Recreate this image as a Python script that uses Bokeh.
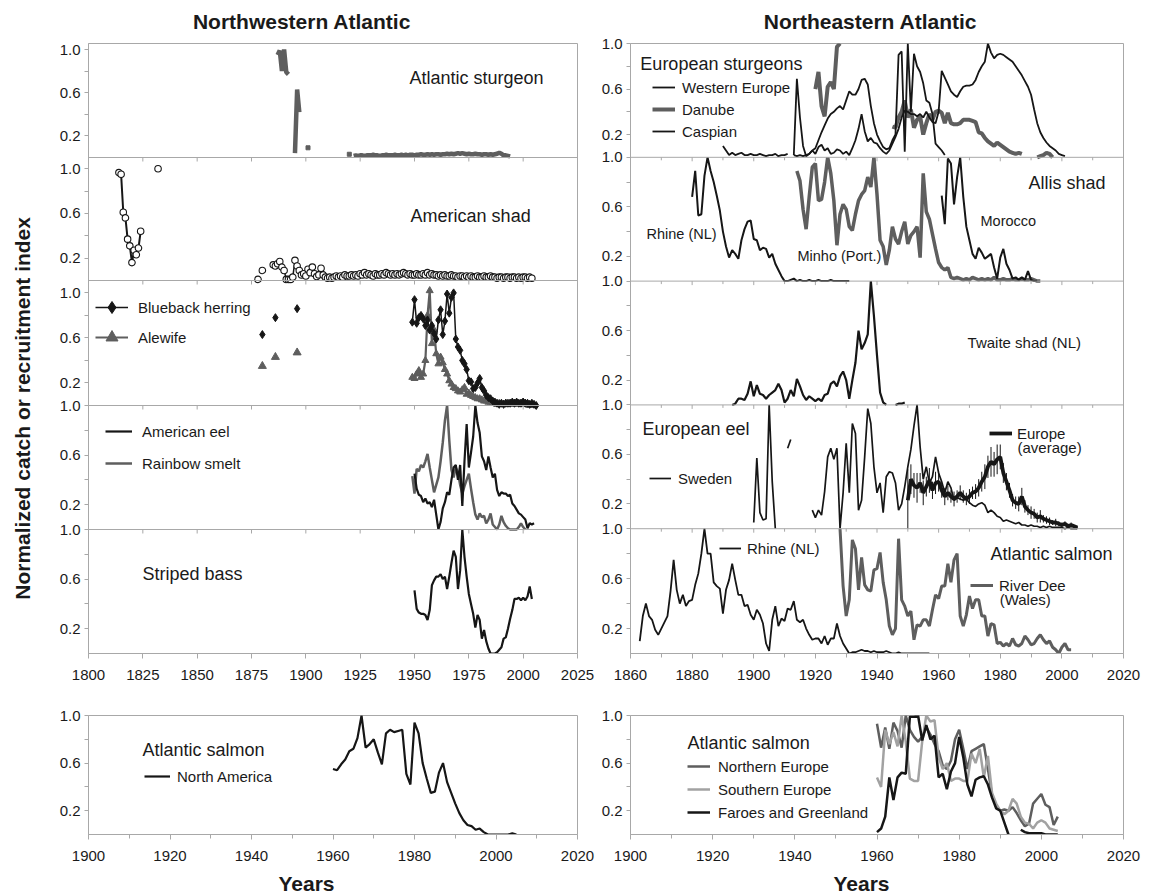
import numpy as np
from math import pi
from bokeh.plotting import figure
from bokeh.models import (Range1d, LinearAxis, FixedTicker, NumeralTickFormatter,
                          Label, Legend, LegendItem, Span)
from bokeh.layouts import row, column
from bokeh.embed import file_html
from bokeh.resources import INLINE
from bokeh.core.properties import value


def yrs(a, b):
    return list(range(a, b + 1))

# ------------------------------------------------------------------ data
# Northwestern Atlantic -- Atlantic sturgeon
stur_a_yr = yrs(1887, 1892)
stur_a = [0.95, 0.99, 0.80, 1.0, 0.79, 0.77]
stur_b_yr = yrs(1895, 1897)
stur_b = [0.04, 0.63, 0.42]
stur_iso_yr = [1901, 1920]
stur_iso = [0.09, 0.03]
stur_c_yr = yrs(1922, 1994)
stur_c = [0.015, 0.02, 0.015, 0.02, 0.02, 0.015, 0.02, 0.02, 0.02, 0.025,
          0.02, 0.02, 0.015, 0.02, 0.02, 0.025, 0.02, 0.02, 0.02, 0.025,
          0.02, 0.02, 0.025, 0.02, 0.025, 0.02, 0.025, 0.025, 0.02, 0.025,
          0.025, 0.03, 0.025, 0.025, 0.03, 0.025, 0.03, 0.025, 0.03, 0.03,
          0.025, 0.03, 0.03, 0.035, 0.03, 0.035, 0.03, 0.035, 0.04, 0.035,
          0.04, 0.035, 0.03, 0.035, 0.03, 0.03, 0.035, 0.03, 0.03, 0.025,
          0.03, 0.03, 0.025, 0.03, 0.025, 0.03, 0.035, 0.045, 0.035, 0.02,
          0.02, 0.015, 0.01]

# American shad
shad_a_yr = yrs(1814, 1824)
shad_a = [0.965, 0.95, 0.61, 0.56, 0.37, 0.31, 0.16, 0.27, 0.23, 0.29, 0.44]
shad_iso_yr = [1832, 1878, 1880]
shad_iso = [1.0, 0.01, 0.09]
shad_b_yr = yrs(1885, 2004)
shad_b = [0.14, 0.13, 0.15, 0.17, 0.12, 0.09, 0.01, 0.01, 0.01, 0.03,
          0.18, 0.13, 0.09, 0.05, 0.06, 0.04, 0.10, 0.07, 0.12, 0.06,
          0.035, 0.05, 0.11, 0.05, 0.03, 0.02, 0.03, 0.02, 0.03, 0.04,
          0.03, 0.04, 0.03, 0.05, 0.04, 0.04, 0.05, 0.04, 0.05, 0.04,
          0.06, 0.05, 0.07, 0.05, 0.06, 0.05, 0.04, 0.06, 0.05, 0.05,
          0.06, 0.05, 0.07, 0.06, 0.05, 0.06, 0.05, 0.06, 0.05, 0.06,
          0.07, 0.06, 0.05, 0.06, 0.05, 0.05, 0.06, 0.05, 0.05, 0.06,
          0.05, 0.07, 0.05, 0.06, 0.05, 0.05, 0.04, 0.05, 0.04, 0.05,
          0.04, 0.04, 0.05, 0.04, 0.04, 0.03, 0.04, 0.04, 0.03, 0.04,
          0.03, 0.04, 0.03, 0.03, 0.04, 0.03, 0.03, 0.04, 0.03, 0.03,
          0.04, 0.03, 0.03, 0.02, 0.03, 0.03, 0.02, 0.03, 0.03, 0.02,
          0.03, 0.03, 0.02, 0.03, 0.02, 0.03, 0.03, 0.02, 0.03, 0.02]

# Blueback herring / Alewife
herring_iso_yr = [1880, 1886, 1896]
herring_iso = [0.63, 0.78, 0.86]
alewife_iso_yr = [1880, 1886, 1896]
alewife_iso = [0.35, 0.43, 0.47]
herring_yr = yrs(1949, 2006)
herring = [0.74, 0.94, 0.73, 0.78, 0.80, 0.77, 0.71, 0.76, 0.67, 0.71,
           0.64, 0.59, 0.76, 0.85, 0.63, 0.75, 0.99, 0.82, 0.96, 1.0,
           0.59, 0.52, 0.49, 0.40, 0.37, 0.32, 0.22, 0.21, 0.15, 0.16,
           0.20, 0.24, 0.16, 0.13, 0.09, 0.07, 0.06, 0.04, 0.03, 0.02,
           0.01, 0.02, 0.01, 0.02, 0.02, 0.02, 0.03, 0.02, 0.03, 0.02,
           0.02, 0.03, 0.02, 0.02, 0.01, 0.02, 0.01, 0.0]
alewife_yr = yrs(1949, 2003)
alewife = [0.25, 0.24, 0.28, 0.31, 0.25, 0.28, 0.40, 0.80, 1.02, 0.55,
           0.67, 0.46, 0.37, 0.43, 0.38, 0.32, 0.28, 0.22, 0.19, 0.16,
           0.15, 0.13, 0.12, 0.14, 0.16, 0.10, 0.11, 0.09, 0.08, 0.07,
           0.06, 0.06, 0.05, 0.04, 0.04, 0.03, 0.03, 0.02, 0.02, 0.01,
           0.02, 0.01, 0.01, 0.02, 0.01, 0.02, 0.01, 0.02, 0.02, 0.01,
           0.02, 0.03, 0.02, 0.01, 0.0]

# American eel / Rainbow smelt
am_eel_yr = yrs(1950, 2005)
am_eel = [0.45, 0.33, 0.28, 0.27, 0.22, 0.25, 0.21, 0.22, 0.18, 0.24,
          0.12, 0.0, 0.06, 0.17, 0.22, 0.30, 0.28, 0.40, 0.50, 0.52,
          0.40, 0.52, 0.19, 0.55, 0.85, 0.50, 0.62, 0.75, 1.0, 0.86,
          0.78, 0.59, 0.55, 0.48, 0.59, 0.50, 0.42, 0.45, 0.32, 0.27,
          0.30, 0.29, 0.29, 0.27, 0.28, 0.21, 0.19, 0.16, 0.13, 0.12,
          0.10, 0.08, 0.01, 0.05, 0.04, 0.05]
smelt_yr = yrs(1949, 2001)
smelt = [0.43, 0.29, 0.49, 0.47, 0.52, 0.50, 0.55, 0.61, 0.50, 0.40,
         0.30, 0.36, 0.42, 0.55, 0.70, 0.88, 1.0, 0.72, 0.48, 0.42,
         0.50, 0.46, 0.36, 0.29, 0.35, 0.40, 0.45, 0.33, 0.22, 0.12,
         0.08, 0.13, 0.10, 0.11, 0.05, 0.08, 0.13, 0.04, 0.02, 0.0,
         0.04, 0.11, 0.06, 0.03, 0.01, 0.0, 0.0, 0.0, 0.0, 0.02,
         0.05, 0.02, 0.0]

# Striped bass
bass_yr = yrs(1950, 2004)
bass = [0.51, 0.36, 0.33, 0.32, 0.32, 0.31, 0.27, 0.35, 0.55, 0.59,
        0.62, 0.62, 0.64, 0.60, 0.62, 0.52, 0.62, 0.73, 0.83, 0.78,
        0.52, 0.67, 1.0, 0.78, 0.62, 0.48, 0.40, 0.32, 0.21, 0.31,
        0.27, 0.12, 0.19, 0.10, 0.04, 0.0, 0.0, 0.0, 0.01, 0.03,
        0.05, 0.12, 0.13, 0.20, 0.28, 0.35, 0.44, 0.44, 0.45, 0.43,
        0.45, 0.43, 0.46, 0.54, 0.44]

# Atlantic salmon, North America
na_salmon_yr = yrs(1960, 2005)
na_salmon = [0.55, 0.54, 0.59, 0.63, 0.70, 0.72, 0.81, 1.0, 0.73, 0.76,
             0.80, 0.69, 0.59, 0.85, 0.88, 0.86, 0.87, 0.88, 0.51, 0.42,
             0.94, 0.85, 0.60, 0.47, 0.35, 0.36, 0.52, 0.60, 0.44, 0.35,
             0.26, 0.18, 0.12, 0.08, 0.07, 0.04, 0.05, 0.02, 0.0, 0.0,
             0.0, 0.0, 0.0, 0.0, 0.01, 0.0]

# Northeastern Atlantic -- European sturgeons
weu_a_yr = yrs(1890, 1911)
weu_a = [0.10, 0.06, 0.02, 0.04, 0.02, 0.03, 0.04, 0.02, 0.02, 0.03, 0.02,
         0.02, 0.03, 0.02, 0.01, 0.02, 0.02, 0.03, 0.01, 0.02, 0.02, 0.03]
weu_b_yr = yrs(1913, 1962)
weu_b = [0.02, 0.69, 0.35, 0.10, 0.01, 0.03, 0.06, 0.08, 0.15, 0.22,
         0.28, 0.34, 0.38, 0.40, 0.43, 0.45, 0.42, 0.50, 0.58, 0.55,
         0.55, 0.60, 0.68, 0.69, 0.64, 0.45, 0.30, 0.20, 0.14, 0.09,
         0.07, 0.08, 0.15, 0.20, 0.90, 0.93, 0.05, 1.0, 0.40, 0.91,
         0.80, 0.75, 0.65, 0.50, 0.48, 0.38, 0.12, 0.09, 0.06, 0.02]
danube_a_yr = yrs(1920, 1928)
danube_a = [0.60, 0.75, 0.45, 0.36, 0.62, 0.66, 0.60, 0.97, 1.0]
danube_b_yr = yrs(1945, 1987)
danube_b = [0.27, 0.26, 0.35, 0.40, 0.50, 0.35, 0.42, 0.26, 0.33, 0.36,
            0.20, 0.30, 0.38, 0.33, 0.40, 0.41, 0.39, 0.30, 0.39, 0.30,
            0.29, 0.29, 0.30, 0.33, 0.33, 0.33, 0.32, 0.31, 0.22, 0.21,
            0.17, 0.14, 0.12, 0.10, 0.13, 0.11, 0.09, 0.07, 0.05, 0.04,
            0.03, 0.04, 0.03]
danube_c_yr = yrs(1992, 1997)
danube_c = [0.0, 0.01, 0.02, 0.04, 0.03, 0.0]
caspian_yr = yrs(1913, 2001)
caspian = [0.02, 0.01, 0.02, 0.01, 0.02, 0.03, 0.06, 0.03, 0.09, 0.11,
           0.06, 0.08, 0.03, 0.04, 0.07, 0.06, 0.03, 0.05, 0.02, 0.08,
           0.15, 0.25, 0.38, 0.23, 0.14, 0.17, 0.13, 0.12, 0.08, 0.05,
           0.03, 0.06, 0.12, 0.18, 0.25, 0.35, 0.41, 0.40, 0.38, 0.38,
           0.36, 0.38, 0.35, 0.40, 0.35, 0.31, 0.30, 0.40, 0.76, 0.70,
           0.64, 0.58, 0.55, 0.53, 0.58, 0.62, 0.63, 0.63, 0.64, 0.68,
           0.75, 0.80, 0.84, 1.0, 0.92, 0.87, 0.90, 0.91, 0.90, 0.88,
           0.86, 0.84, 0.80, 0.76, 0.72, 0.67, 0.62, 0.55, 0.42, 0.30,
           0.22, 0.17, 0.13, 0.10, 0.08, 0.06, 0.03, 0.02, 0.01]

# Allis shad
rhine_shad_yr = yrs(1880, 1931)
rhine_shad = [0.68, 0.89, 0.53, 0.54, 0.85, 1.0, 0.89, 0.80, 0.69, 0.57,
              0.40, 0.28, 0.19, 0.25, 0.22, 0.18, 0.33, 0.42, 0.48, 0.49,
              0.34, 0.33, 0.25, 0.27, 0.26, 0.19, 0.22, 0.14, 0.09, 0.04,
              0.0, 0.0, 0.01, 0.02, 0.0, 0.01, 0.0, 0.0, 0.01, 0.0,
              0.0, 0.01, 0.0, 0.0, 0.0, 0.01, 0.0, 0.0, 0.0, 0.0,
              0.0, 0.0]
minho_yr = yrs(1914, 1993)
minho = [0.89, 0.81, 0.58, 0.42, 0.68, 0.92, 0.95, 0.65, 0.66, 0.80,
         1.0, 0.87, 0.65, 0.29, 0.54, 0.62, 0.58, 0.44, 0.41, 0.54,
         0.65, 0.70, 0.73, 0.84, 0.76, 1.0, 0.70, 0.33, 0.28, 0.13,
         0.25, 0.44, 0.34, 0.30, 0.40, 0.48, 0.30, 0.37, 0.40, 0.44,
         0.19, 0.87, 0.56, 0.50, 0.38, 0.26, 0.15, 0.11, 0.09, 0.11,
         0.03, 0.02, 0.03, 0.02, 0.01, 0.02, 0.01, 0.03, 0.02, 0.01,
         0.02, 0.01, 0.02, 0.01, 0.03, 0.01, 0.01, 0.02, 0.01, 0.01,
         0.02, 0.01, 0.01, 0.02, 0.01, 0.01, 0.02, 0.01, 0.0, 0.0]
morocco_yr = yrs(1961, 1992)
morocco = [0.69, 0.46, 0.99, 0.95, 0.62, 0.84, 1.0, 0.68, 0.44, 0.33,
           0.22, 0.18, 0.27, 0.23, 0.18, 0.20, 0.22, 0.11, 0.02, 0.19,
           0.26, 0.14, 0.09, 0.02, 0.03, 0.01, 0.03, 0.01, 0.08, 0.01,
           0.0, 0.0]

# Twaite shad (NL)
twaite_a_yr = yrs(1893, 1943)
twaite_a = [0.0, 0.01, 0.05, 0.05, 0.04, 0.09, 0.19, 0.07, 0.16, 0.09,
            0.08, 0.05, 0.08, 0.10, 0.12, 0.17, 0.12, 0.02, 0.05, 0.12,
            0.07, 0.21, 0.15, 0.08, 0.04, 0.07, 0.05, 0.03, 0.05, 0.03,
            0.08, 0.09, 0.17, 0.19, 0.15, 0.23, 0.27, 0.20, 0.05, 0.20,
            0.34, 0.60, 0.45, 0.50, 0.57, 1.0, 0.72, 0.40, 0.10, 0.02,
            0.0]
twaite_b_yr = yrs(1946, 1949)
twaite_b = [0.0, 0.01, 0.01, 0.02]

# European eel
sweden_a_yr = yrs(1900, 1907)
sweden_a = [0.05, 0.57, 0.13, 0.07, 0.08, 1.0, 0.38, 0.0]
sweden_b_yr = [1911, 1912]
sweden_b = [0.65, 0.72]
sweden_c_yr = yrs(1919, 2005)
sweden_c = [0.15, 0.09, 0.15, 0.11, 0.30, 0.58, 0.65, 0.56, 0.65, 0.0,
            0.29, 0.69, 0.29, 0.85, 0.77, 0.15, 0.23, 0.58, 0.97, 0.85,
            0.50, 0.29, 0.37, 0.13, 0.42, 0.46, 0.45, 0.37, 0.15, 0.20,
            0.34, 0.50, 0.64, 0.83, 1.0, 0.66, 0.40, 0.50, 0.37, 0.42,
            0.58, 0.45, 0.38, 0.29, 0.38, 0.33, 0.23, 0.25, 0.24, 0.23,
            0.24, 0.21, 0.19, 0.18, 0.20, 0.21, 0.19, 0.13, 0.15, 0.13,
            0.10, 0.09, 0.06, 0.07, 0.06, 0.05, 0.04, 0.05, 0.03, 0.03,
            0.02, 0.03, 0.02, 0.02, 0.01, 0.02, 0.01, 0.02, 0.01, 0.01,
            0.01, 0.01, 0.0, 0.01, 0.0, 0.0, 0.0]
eu_avg_yr = yrs(1950, 2005)
eu_avg = [0.23, 0.40, 0.35, 0.33, 0.37, 0.29, 0.34, 0.39, 0.31, 0.37,
          0.38, 0.31, 0.26, 0.29, 0.26, 0.24, 0.26, 0.29, 0.26, 0.24,
          0.26, 0.29, 0.30, 0.33, 0.38, 0.42, 0.50, 0.54, 0.52, 0.56,
          0.58, 0.45, 0.38, 0.31, 0.23, 0.21, 0.20, 0.26, 0.18, 0.15,
          0.13, 0.12, 0.09, 0.10, 0.08, 0.07, 0.06, 0.05, 0.05, 0.04,
          0.03, 0.04, 0.02, 0.03, 0.02, 0.01]
eu_avg_err = [0.25, 0.12, 0.10, 0.12, 0.08, 0.10, 0.08, 0.10, 0.07, 0.09,
              0.08, 0.06, 0.07, 0.06, 0.05, 0.06, 0.05, 0.06, 0.05, 0.05,
              0.06, 0.05, 0.06, 0.07, 0.08, 0.10, 0.09, 0.12, 0.10, 0.12,
              0.10, 0.08, 0.07, 0.06, 0.05, 0.05, 0.06, 0.07, 0.05, 0.04,
              0.05, 0.04, 0.04, 0.05, 0.03, 0.03, 0.03, 0.02, 0.03, 0.02,
              0.02, 0.02, 0.02, 0.02, 0.01, 0.01]

# Atlantic salmon, Rhine / River Dee
rhine_sal_yr = yrs(1863, 1957)
rhine_sal = [0.10, 0.30, 0.40, 0.30, 0.27, 0.19, 0.15, 0.20, 0.25, 0.30,
             0.50, 0.75, 0.51, 0.40, 0.47, 0.38, 0.42, 0.43, 0.55, 0.64,
             0.80, 1.0, 0.80, 0.80, 0.57, 0.54, 0.52, 0.32, 0.51, 0.59,
             0.72, 0.59, 0.47, 0.47, 0.38, 0.39, 0.31, 0.27, 0.35, 0.31,
             0.24, 0.08, 0.02, 0.27, 0.38, 0.22, 0.28, 0.26, 0.36, 0.35,
             0.42, 0.27, 0.25, 0.27, 0.20, 0.15, 0.11, 0.12, 0.12, 0.08,
             0.14, 0.07, 0.12, 0.12, 0.24, 0.14, 0.08, 0.04, 0.0, 0.01,
             0.01, 0.02, 0.03, 0.02, 0.02, 0.01, 0.02, 0.01, 0.01, 0.01,
             0.02, 0.01, 0.0, 0.0, 0.01, 0.0, 0.0, 0.0, 0.0, 0.0,
             0.0, 0.0, 0.0, 0.0, 0.0]
dee_yr = yrs(1928, 2003)
dee = [1.0, 0.54, 0.30, 0.43, 0.91, 0.84, 0.51, 0.77, 0.55, 0.51,
       0.50, 0.67, 0.68, 0.81, 0.57, 0.43, 0.22, 0.15, 0.20, 0.92,
       0.43, 0.38, 0.30, 0.34, 0.11, 0.23, 0.22, 0.27, 0.27, 0.22,
       0.35, 0.47, 0.44, 0.54, 0.54, 0.72, 0.57, 0.75, 0.80, 0.30,
       0.22, 0.31, 0.46, 0.36, 0.43, 0.43, 0.30, 0.30, 0.14, 0.24,
       0.23, 0.08, 0.09, 0.06, 0.08, 0.06, 0.12, 0.07, 0.06, 0.08,
       0.14, 0.11, 0.07, 0.08, 0.12, 0.15, 0.11, 0.08, 0.10, 0.05,
       0.03, 0.0, 0.05, 0.08, 0.03, 0.03]

# Atlantic salmon, Europe
eu_sal_yr = yrs(1960, 2004)
north_eu = [0.93, 0.73, 0.90, 0.72, 0.94, 0.87, 0.73, 1.0, 0.88, 0.82,
            0.78, 0.82, 0.90, 0.84, 0.76, 0.70, 0.58, 0.55, 0.62, 0.80,
            0.88, 0.72, 0.55, 0.70, 0.72, 0.74, 0.76, 0.55, 0.33, 0.24,
            0.20, 0.21, 0.20, 0.23, 0.18, 0.12, 0.07, 0.09, 0.26, 0.30,
            0.34, 0.25, 0.23, 0.08, 0.15]
south_eu = [0.48, 0.40, 0.88, 0.76, 0.86, 0.74, 1.0, 0.78, 0.47, 0.45,
            0.45, 0.78, 1.0, 0.95, 0.96, 0.65, 0.55, 0.60, 0.45, 0.47,
            0.47, 0.45, 0.45, 0.68, 0.60, 0.72, 0.48, 0.66, 0.35, 0.26,
            0.20, 0.17, 0.20, 0.30, 0.26, 0.15, 0.10, 0.09, 0.05, 0.10,
            0.12, 0.10, 0.05, 0.04, 0.03]
faroes_a_yr = yrs(1960, 1992)
faroes_a = [0.02, 0.05, 0.15, 0.48, 0.29, 0.48, 0.52, 0.51, 0.99, 0.99,
            1.0, 0.79, 0.92, 0.80, 0.83, 0.48, 0.51, 0.38, 0.53, 0.60,
            0.82, 0.65, 0.42, 0.32, 0.46, 0.48, 0.49, 0.42, 0.31, 0.22,
            0.20, 0.10, 0.0]
faroes_b_yr = yrs(1995, 2004)
faroes_b = [0.04, 0.02, 0.01, 0.01, 0.01, 0.01, 0.0, 0.0, 0.0, 0.0]

# axis ticks
left_ticks = list(range(1800, 2026, 25))
right_ticks = list(range(1860, 2021, 20))
right_minor = list(range(1870, 2011, 20))
bot_ticks = list(range(1900, 2021, 20))
bot_minor = list(range(1910, 2011, 20))

# ------------------------------------------------------------------ style
FONT = "Liberation Sans"
BLACK = "#161616"
DARK = "#5e5e5e"
LIGHT = "#a2a2a2"
FRAME = "#a8a8a8"
TXT = "#1a1a1a"


def style_axis(ax):
    ax.axis_line_color = FRAME
    ax.major_tick_line_color = FRAME
    ax.minor_tick_line_color = FRAME
    ax.major_label_text_font = FONT
    ax.major_label_text_font_size = "15px"
    ax.major_label_text_color = TXT


def bottom_axis(p, xticks, xminor):
    xa = LinearAxis(ticker=FixedTicker(ticks=xticks, minor_ticks=xminor or []),
                    formatter=NumeralTickFormatter(format="0"))
    xa.major_tick_in = 0
    xa.major_tick_out = 5
    xa.minor_tick_in = 0
    xa.minor_tick_out = 4
    xa.major_label_standoff = 11
    style_axis(xa)
    p.add_layout(xa, "below")


def make_stack(width, mbl, mbr, xr, tops, bottoms, ymaxes, xticks, xminor, mbb):
    """One figure holding a stack of panels; each panel gets its own y range."""
    fb = bottoms[-1]
    H = fb - tops[0]
    p = figure(width=width, height=10 + H + mbb, x_range=Range1d(xr[0], xr[1]),
               y_range=Range1d(0, H), output_backend="svg", toolbar_location=None,
               x_axis_location=None, y_axis_location=None,
               min_border_left=mbl, min_border_right=mbr,
               min_border_top=10, min_border_bottom=mbb)
    p.grid.visible = False
    p.outline_line_color = FRAME
    ranges, ticks, minors, labels, bounds = {}, [], [], {}, []
    for k, (t, b, ym) in enumerate(zip(tops, bottoms, ymaxes)):
        b_px = fb - b
        t_px = fb - t
        s = (t_px - b_px) / ym
        ranges["p%d" % k] = Range1d(-b_px / s, (H - b_px) / s)
        for v in (0.2, 0.6, 1.0):
            pos = round(b_px + v * s, 3)
            ticks.append(pos)
            labels[pos] = "%.1f" % v
        for v in (0.4, 0.8):
            minors.append(round(b_px + v * s, 3))
        if k > 0:
            bounds.append(t_px)
    p.extra_y_ranges = ranges
    ya = LinearAxis(ticker=FixedTicker(ticks=ticks, minor_ticks=minors))
    ya.major_label_overrides = labels
    ya.major_tick_in = 0
    ya.major_tick_out = 4
    ya.minor_tick_in = 0
    ya.minor_tick_out = 4
    ya.major_label_standoff = 4
    style_axis(ya)
    p.add_layout(ya, "left")
    minor_x = xminor or []
    for bpx in bounds:
        p.add_layout(Span(location=bpx, dimension="width", line_color=FRAME, line_width=1))
        p.segment(x0=xticks, y0=[bpx] * len(xticks), x1=xticks, y1=[bpx - 4] * len(xticks),
                  line_color=FRAME, line_width=1)
        if minor_x:
            p.segment(x0=minor_x, y0=[bpx] * len(minor_x), x1=minor_x,
                      y1=[bpx - 3] * len(minor_x), line_color=FRAME, line_width=1)
    bottom_axis(p, xticks, xminor)
    return p


def make_panel(width, height, xr, mbl, mbr, xticks, xminor, mbt, mbb):
    p = figure(width=width, height=height, x_range=Range1d(xr[0], xr[1]),
               y_range=Range1d(0, 1.0), output_backend="svg",
               toolbar_location=None, x_axis_location=None, y_axis_location=None,
               min_border_left=mbl, min_border_right=mbr,
               min_border_top=mbt, min_border_bottom=mbb)
    p.grid.visible = False
    p.outline_line_color = FRAME
    ya = LinearAxis(ticker=FixedTicker(ticks=[0.2, 0.6, 1.0], minor_ticks=[0.4, 0.8]),
                    formatter=NumeralTickFormatter(format="0.0"))
    ya.major_tick_in = 0
    ya.major_tick_out = 4
    ya.minor_tick_in = 0
    ya.minor_tick_out = 4
    ya.major_label_standoff = 4
    style_axis(ya)
    p.add_layout(ya, "left")
    bottom_axis(p, xticks, xminor)
    return p


def add_label(p, x, y, text, size="18px", rng="default"):
    p.add_layout(Label(x=x, y=y, y_range_name=rng, text=text, text_font=FONT,
                       text_font_size=size, text_color=TXT,
                       text_baseline="middle", text_align="left"))


def add_legend(p, items, loc, gw, gh, standoff, spacing=0):
    lg = Legend(items=items, location=loc, orientation="vertical",
                glyph_width=gw, glyph_height=gh, label_standoff=standoff,
                spacing=spacing, padding=0, margin=0, border_line_color=None,
                background_fill_alpha=0, label_text_font=FONT,
                label_text_font_size="15px", label_text_color=TXT,
                label_height=gh)
    p.add_layout(lg)


def text_fig(width, height, xr, yr):
    p = figure(width=width, height=height, x_range=Range1d(xr[0], xr[1]),
               y_range=Range1d(yr[0], yr[1]), output_backend="svg",
               toolbar_location=None, x_axis_location=None, y_axis_location=None,
               min_border=0)
    p.grid.visible = False
    p.outline_line_color = None
    return p

# ------------------------------------------------------------------ left column (5 panels)
L = make_stack(558, 48, 21, (1800, 2025),
               [43, 157, 280, 405, 529], [157, 280, 405, 529, 653],
               [1.056, 1.10, 1.11, 1.0, 1.0], left_ticks, None, 47)

# Atlantic sturgeon
for xs, ys in [(stur_a_yr, stur_a), (stur_b_yr, stur_b), (stur_c_yr, stur_c)]:
    L.line(xs, ys, line_color=DARK, line_width=4.5, y_range_name="p0")
L.scatter(stur_iso_yr, stur_iso, marker="square", size=4, color=DARK, y_range_name="p0")
add_label(L, 1947.7, 0.732, "Atlantic sturgeon", rng="p0")

# American shad
L.line(shad_a_yr, shad_a, line_color=BLACK, line_width=2, y_range_name="p1")
L.line(shad_b_yr, shad_b, line_color=BLACK, line_width=1.5, y_range_name="p1")
for xs, ys in [(shad_a_yr, shad_a), (shad_iso_yr, shad_iso), (shad_b_yr, shad_b)]:
    L.scatter(xs, ys, marker="circle", size=6.5, fill_color="white",
              line_color=BLACK, line_width=1.1, y_range_name="p1")
add_label(L, 1948.2, 0.581, "American shad", rng="p1")

# Blueback herring / Alewife
al_l = L.line(alewife_yr, alewife, line_color=DARK, line_width=2.2, y_range_name="p2")
al_s = L.scatter(alewife_yr, alewife, marker="triangle", size=7, color=DARK, y_range_name="p2")
L.scatter(alewife_iso_yr, alewife_iso, marker="triangle", size=8, color=DARK, y_range_name="p2")
he_l = L.line(herring_yr, herring, line_color=BLACK, line_width=1.5, y_range_name="p2")
he_s = L.scatter(herring_yr, herring, marker="diamond", size=8, color=BLACK, y_range_name="p2")
L.scatter(herring_iso_yr, herring_iso, marker="diamond", size=8, color=BLACK, y_range_name="p2")
add_legend(L, [LegendItem(label="Blueback herring", renderers=[he_l, he_s]),
               LegendItem(label="Alewife", renderers=[al_l, al_s])],
           (7, 301), 33, 30, 10)

# American eel / Rainbow smelt
sm = L.line(smelt_yr, smelt, line_color=DARK, line_width=2.5, y_range_name="p3")
ae = L.line(am_eel_yr, am_eel, line_color=BLACK, line_width=2.2, y_range_name="p3")
add_legend(L, [LegendItem(label="American eel", renderers=[ae]),
               LegendItem(label="Rainbow smelt", renderers=[sm])],
           (17, 174), 27, 32, 10)

# Striped bass
L.line(bass_yr, bass, line_color=BLACK, line_width=2.2, y_range_name="p4")
add_label(L, 1824.8, 0.645, "Striped bass", rng="p4")

# ------------------------------------------------------------------ right column (5 panels)
R = make_stack(544, 32, 19, (1860, 2020),
               [43, 157, 281, 405, 529], [157, 281, 405, 529, 654],
               [1.0, 1.0, 1.0, 1.0, 1.0], right_ticks, right_minor, 46)

# European sturgeons
da = R.line(danube_a_yr, danube_a, line_color=DARK, line_width=4, y_range_name="p0")
R.line(danube_b_yr, danube_b, line_color=DARK, line_width=4, y_range_name="p0")
R.line(danube_c_yr, danube_c, line_color=DARK, line_width=4, y_range_name="p0")
we = R.line(weu_a_yr, weu_a, line_color=BLACK, line_width=1.8, y_range_name="p0")
R.line(weu_b_yr, weu_b, line_color=BLACK, line_width=1.8, y_range_name="p0")
ca = R.line(caspian_yr, caspian, line_color=BLACK, line_width=1.8, y_range_name="p0")
add_label(R, 1863.2, 0.822, "European sturgeons", rng="p0")
add_legend(R, [LegendItem(label="Western Europe", renderers=[we]),
               LegendItem(label="Danube", renderers=[da]),
               LegendItem(label="Caspian", renderers=[ca])],
           (22, 511), 23, 22, 7)

# Allis shad
R.line(minho_yr, minho, line_color=DARK, line_width=3.5, y_range_name="p1")
R.line(rhine_shad_yr, rhine_shad, line_color=BLACK, line_width=2, y_range_name="p1")
R.line(morocco_yr, morocco, line_color=BLACK, line_width=2, y_range_name="p1")
add_label(R, 1989.2, 0.79, "Allis shad", rng="p1")
add_label(R, 1865.2, 0.379, "Rhine (NL)", "14.5px", rng="p1")
add_label(R, 1914.2, 0.202, "Minho (Port.)", "14.5px", rng="p1")
add_label(R, 1973.6, 0.484, "Morocco", "14.5px", rng="p1")

# Twaite shad
R.line(twaite_a_yr, twaite_a, line_color=BLACK, line_width=2.2, y_range_name="p2")
R.line(twaite_b_yr, twaite_b, line_color=BLACK, line_width=2.2, y_range_name="p2")
add_label(R, 1969.4, 0.508, "Twaite shad (NL)", "15px", rng="p2")

# European eel
sw = R.line(sweden_a_yr, sweden_a, line_color=BLACK, line_width=1.7, y_range_name="p3")
R.line(sweden_b_yr, sweden_b, line_color=BLACK, line_width=1.7, y_range_name="p3")
R.line(sweden_c_yr, sweden_c, line_color=BLACK, line_width=1.7, y_range_name="p3")
eu_avg_arr = np.array(eu_avg)
eu_err_arr = np.array(eu_avg_err)
R.segment(x0=eu_avg_yr, y0=np.clip(eu_avg_arr - eu_err_arr, 0, None), x1=eu_avg_yr,
          y1=eu_avg_arr + eu_err_arr, line_color=BLACK, line_width=1, y_range_name="p3")
ea = R.line(eu_avg_yr, eu_avg, line_color=BLACK, line_width=3.8, y_range_name="p3")
add_label(R, 1863.9, 0.806, "European eel", rng="p3")
add_legend(R, [LegendItem(label="Sweden", renderers=[sw])], (19, 164), 22, 22, 7)
add_legend(R, [LegendItem(label="Europe", renderers=[ea])], (359, 209), 23, 22, 5)
add_label(R, 1985.6, 0.653, "(average)", "15px", rng="p3")

# Atlantic salmon (Rhine, River Dee)
rd = R.line(dee_yr, dee, line_color=DARK, line_width=3, y_range_name="p4")
rs = R.line(rhine_sal_yr, rhine_sal, line_color=BLACK, line_width=1.8, y_range_name="p4")
add_label(R, 1976.8, 0.80, "Atlantic salmon", rng="p4")
add_legend(R, [LegendItem(label="Rhine (NL)", renderers=[rs])], (89, 94), 22, 22, 6)
add_legend(R, [LegendItem(label="River Dee", renderers=[rd])], (340, 57), 23, 22, 6)
add_label(R, 1979.8, 0.432, "(Wales)", "15px", rng="p4")

# ------------------------------------------------------------------ bottom row
LB = make_panel(598, 170, (1900, 2020), 88, 21, bot_ticks, bot_minor, 15, 36)
na = LB.line(na_salmon_yr, na_salmon, line_color=BLACK, line_width=2.2)
add_label(LB, 1913.25, 0.706, "Atlantic salmon")
add_legend(LB, [LegendItem(label="North America", renderers=[na])], (56, 47), 26, 22, 7)

RB = make_panel(544, 170, (1900, 2020), 32, 19, bot_ticks, bot_minor, 14, 36)
ne = RB.line(eu_sal_yr, north_eu, line_color=DARK, line_width=2.5)
se = RB.line(eu_sal_yr, south_eu, line_color=LIGHT, line_width=2.5)
fg = RB.line(faroes_a_yr, faroes_a, line_color=BLACK, line_width=2.5)
RB.line(faroes_b_yr, faroes_b, line_color=BLACK, line_width=2.5)
add_label(RB, 1913.9, 0.767, "Atlantic salmon")
add_legend(RB, [LegendItem(label="Northern Europe", renderers=[ne]),
                LegendItem(label="Southern Europe", renderers=[se]),
                LegendItem(label="Faroes and Greenland", renderers=[fg])],
           (57, 11), 23, 22, 8, spacing=1)

# ------------------------------------------------------------------ titles
header = text_fig(1142, 33, (0, 1142), (33, 0))
header.text(x=[301.5, 870], y=[20.5, 20.5],
            text=["Northwestern Atlantic", "Northeastern Atlantic"],
            text_font=value(FONT), text_font_size=value("21px"), text_font_style="bold",
            text_align="center", text_baseline="middle", text_color=TXT)

ylab = text_fig(40, 667, (0, 40), (700, 33))
ylab.text(x=[22], y=[432], text=["Normalized catch or recruitment index"], angle=pi / 2,
          text_font=value(FONT), text_font_size=value("21px"), text_font_style="bold",
          text_align="center", text_baseline="middle", text_color=TXT)

footer = text_fig(1142, 24, (0, 1142), (894, 870))
footer.text(x=[306, 861], y=[883, 883], text=["Years", "Years"],
            text_font=value(FONT), text_font_size=value("21px"), text_font_style="bold",
            text_align="center", text_baseline="middle", text_color=TXT)

layout = column(
    header,
    row(ylab, L, R),
    row(LB, RB),
    footer,
)

open("out.html", "w").write(file_html(layout, INLINE))
